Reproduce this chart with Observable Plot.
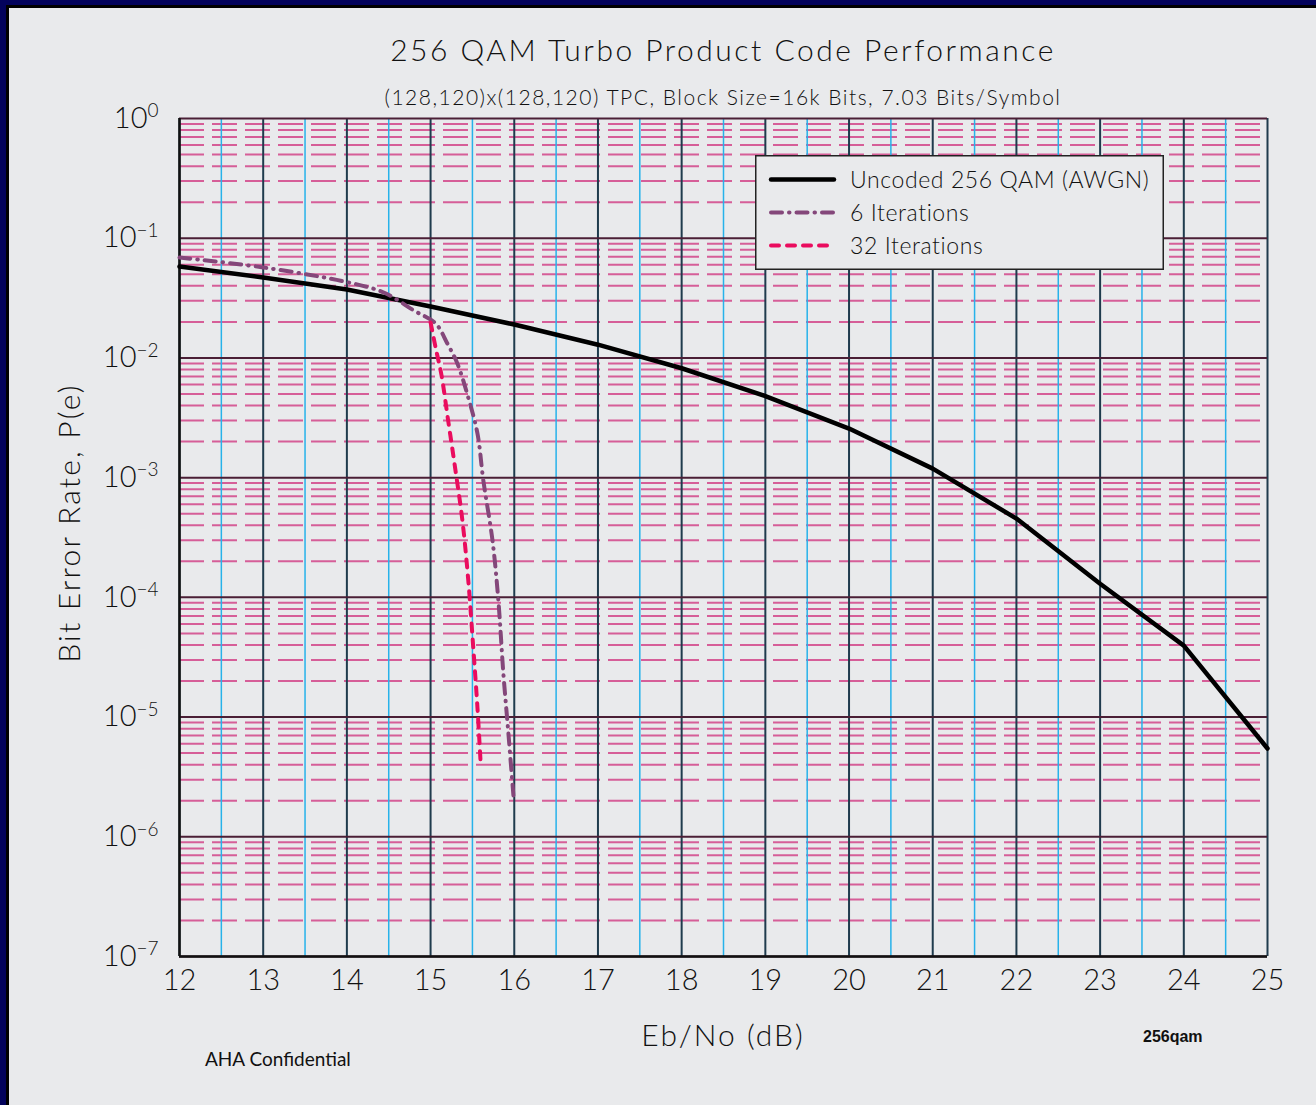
<!DOCTYPE html>
<html>
<head>
<meta charset="utf-8">
<script src="https://cdn.jsdelivr.net/npm/d3@7"></script>
<script src="https://cdn.jsdelivr.net/npm/@observablehq/plot@0.6"></script>
<style>
  body { margin: 0; background: #e9eaec; }
  #page { position: relative; width: 1316px; height: 1105px; background: #e9eaec; overflow: hidden; font-family: Lato, sans-serif; color: #111; }
  .abs { position: absolute; white-space: nowrap; line-height: 1; }
  #chart { position: absolute; left: 0; top: 0; }
</style>
</head>
<body>
<div id="page">
  <div class="abs" style="left:0;top:0;width:1316px;height:5px;background:#03035c"></div>
  <div class="abs" style="left:0;top:0;width:6px;height:1105px;background:#03035c"></div>
  <div class="abs" style="left:6px;top:5px;width:1310px;height:3px;background:#000"></div>
  <div class="abs" style="left:6px;top:5px;width:3px;height:1100px;background:#000"></div>

  <div id="chart"></div>

  <div id="title" class="abs" style="left:0;width:1446px;text-align:center;top:34px;font-size:30px;font-weight:300;letter-spacing:2.5px">256 QAM Turbo Product Code Performance</div>
  <div id="subtitle" class="abs" style="left:0;width:1446px;text-align:center;top:86px;font-size:21px;font-weight:300;letter-spacing:1.5px">(128,120)x(128,120) TPC, Block Size=16k Bits, 7.03 Bits/Symbol</div>
  <div id="xlabel" class="abs" style="left:0;width:1446px;text-align:center;top:1019px;font-size:30px;font-weight:300;letter-spacing:2px">Eb/No (dB)</div>
  <div id="ylabel" class="abs" style="left:-132px;width:400px;text-align:center;top:508px;font-size:30px;font-weight:300;letter-spacing:2.2px;transform:rotate(-90deg);transform-origin:200px 15px">Bit Error Rate, P(e)</div>
  <div class="abs" style="left:205px;top:1049px;font-size:19px;font-weight:400;">AHA Confidential</div>
  <div class="abs" style="left:1143px;top:1029px;font-size:16px;font-weight:700;font-family:'Liberation Sans',Arial,sans-serif">256qam</div>

  <svg class="abs" style="left:755px;top:155px" width="409" height="116">
    <rect x="0.75" y="0.75" width="407.5" height="113.5" fill="#e9eaec" stroke="#222" stroke-width="1.5"></rect>
    <line x1="16" x2="79" y1="24.5" y2="24.5" stroke="#000" stroke-width="4.5" stroke-linecap="round"></line>
    <line x1="16" x2="79" y1="57.5" y2="57.5" stroke="#84477a" stroke-width="4" stroke-linecap="round" stroke-dasharray="11,7,0.5,7"></line>
    <line x1="16" x2="79" y1="90.5" y2="90.5" stroke="#ea0c5e" stroke-width="4" stroke-linecap="round" stroke-dasharray="8,8"></line>
    <g font-family="Lato, sans-serif" font-weight="300" font-size="23" fill="#111" letter-spacing="0.6">
      <text x="95" y="33">Uncoded 256 QAM (AWGN)</text>
      <text x="95" y="66">6 Iterations</text>
      <text x="95" y="99">32 Iterations</text>
    </g>
  </svg>
</div>
<script>
// ---- data ----
const ebnoUncoded = [12, 13, 14, 15, 16, 17, 18, 19, 20, 21, 22, 23, 24, 25];
const berUncoded  = [0.058, 0.047, 0.0373, 0.0269, 0.019, 0.0129, 0.0082, 0.0048, 0.00257, 0.00119, 4.55e-4, 1.3e-4, 3.95e-5, 5.46e-6];

const ebno6 = [12, 13, 14, 14.44, 14.8, 15.06, 15.2, 15.32, 15.45, 15.56, 15.63, 15.74, 15.81, 15.87, 15.93, 15.99];
const ber6  = [0.069, 0.057, 0.043, 0.0352, 0.0249, 0.0194, 0.0132, 0.00898, 0.00467, 0.00234, 9.5e-4, 2.98e-4, 9.4e-5, 2.3e-5, 7.3e-6, 2.2e-6];

const ebno32 = [15.0, 15.06, 15.13, 15.21, 15.29, 15.38, 15.45, 15.51, 15.56, 15.6];
const ber32  = [0.0198, 0.0122, 0.0072, 0.003, 0.00125, 4.4e-4, 1.4e-4, 3.8e-5, 1.2e-5, 3.9e-6];

const xTicks = [12, 13, 14, 15, 16, 17, 18, 19, 20, 21, 22, 23, 24, 25];
const xHalf  = [12.5, 13.5, 14.5, 15.5, 16.5, 17.5, 18.5, 19.5, 20.5, 21.5, 22.5, 23.5, 24.5];
const yDecades = [1e-7, 1e-6, 1e-5, 1e-4, 1e-3, 1e-2, 1e-1, 1];
const yMinorMultipliers = [2, 3, 4, 5, 6, 7, 8, 9];

// ---- build tables ----
const toRows = (xs, ys) => xs.map((x, i) => ({x, y: ys[i]}));
const uncoded = toRows(ebnoUncoded, berUncoded);
const it6 = toRows(ebno6, ber6);
const it32 = toRows(ebno32, ber32);
const yMinor = [];
for (const d of yDecades.slice(0, -1)) for (const k of yMinorMultipliers) yMinor.push(k * d);

const chart = Plot.plot({
  width: 1316,
  height: 1105,
  marginLeft: 179,
  marginRight: 49,
  marginTop: 118,
  marginBottom: 149,
  style: {background: "transparent", fontFamily: "Lato, sans-serif", fontSize: "29px", fontWeight: 300, color: "#111", overflow: "visible"},
  x: {domain: [12, 25], ticks: xTicks, tickSize: 0, tickPadding: 13, tickFormat: d => String(d), label: null},
  y: {type: "log", domain: [1e-7, 1], ticks: yDecades, tickSize: 0, tickPadding: 21,
      tickFormat: d => "10^" + String(Math.round(Math.log10(d))).replace("-", "\u2212"), label: null},
  marks: [
    Plot.ruleY(yMinor, {stroke: "#d2458a", strokeWidth: 2, strokeDasharray: "25,8", strokeOpacity: 0.85}),
    Plot.ruleX(xHalf, {stroke: "#27b2ea", strokeWidth: 1.5}),
    Plot.ruleX(xTicks, {stroke: "#1f3b4d", strokeWidth: 2}),
    Plot.ruleY(yDecades, {stroke: "#4b1f36", strokeWidth: 2}),
    Plot.ruleX([12], {stroke: "#111", strokeWidth: 2.5}),
    Plot.ruleY([1e-7], {stroke: "#111", strokeWidth: 2.5}),
    Plot.line(uncoded, {x: "x", y: "y", stroke: "#000", strokeWidth: 4.5}),
    Plot.line(it6, {x: "x", y: "y", stroke: "#84477a", strokeWidth: 4, strokeDasharray: "11,7,0.5,7", strokeLinecap: "round", curve: "catmull-rom"}),
    Plot.line(it32, {x: "x", y: "y", stroke: "#ea0c5e", strokeWidth: 4, strokeDasharray: "8,8", strokeLinecap: "round", curve: "catmull-rom"})
  ]
});
document.getElementById("chart").appendChild(chart);

// superscript exponents on y tick labels
d3.select(chart).selectAll("text").each(function() {
  const t = d3.select(this);
  const s = t.text();
  if (s.startsWith("10^")) {
    const exp = s.slice(3);
    t.text("10");
    t.append("tspan").attr("dy", "-0.55em").attr("font-size", "19px").text(exp);
  }
});
</script>
</body>
</html>
